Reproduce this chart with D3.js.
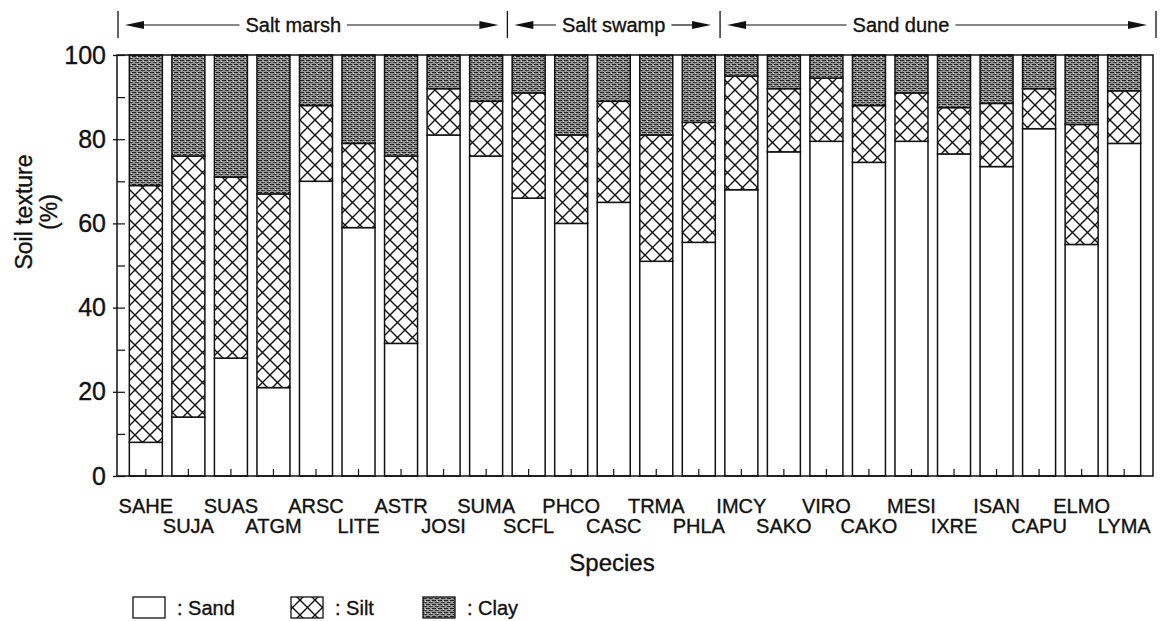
<!DOCTYPE html>
<html>
<head>
<meta charset="utf-8">
<script src="https://cdn.jsdelivr.net/npm/d3@7"></script>
<style>
  body { margin: 0; background: #fff; }
  svg { display: block; }
  text { font-family: "Liberation Sans", Arial, Helvetica, sans-serif; fill: #111; stroke: #111; stroke-width: 0.35px; }
</style>
</head>
<body>
<script>
// values (percent)
const species = ['SAHE', 'SUJA', 'SUAS', 'ATGM', 'ARSC', 'LITE', 'ASTR', 'JOSI', 'SUMA',
  'SCFL', 'PHCO', 'CASC', 'TRMA', 'PHLA',
  'IMCY', 'SAKO', 'VIRO', 'CAKO', 'MESI', 'IXRE', 'ISAN', 'CAPU', 'ELMO', 'LYMA'];
const sand = [8, 14, 28, 21, 70, 59, 31.5, 81, 76, 66, 60, 65, 51, 55.5, 68, 77, 79.5, 74.5, 79.5, 76.5, 73.5, 82.5, 55, 79];
const silt = [61, 62, 43, 46, 18, 20, 44.5, 11, 13, 25, 21, 24, 30, 28.5, 27, 15, 15, 13.5, 11.5, 11, 15, 9.5, 28.5, 12.5];
const clay = [31, 24, 29, 33, 12, 21, 24, 8, 11, 9, 19, 11, 19, 16, 5, 8, 5.5, 12, 9, 12.5, 11.5, 8, 16.5, 8.5];

const habitats = ['Salt marsh', 'Salt swamp', 'Sand dune'];
const habitatFirst = ['SAHE', 'SCFL', 'IMCY'];
const habitatLast = ['SUMA', 'PHLA', 'LYMA'];

const yTicks = [0, 20, 40, 60, 80, 100];
const yMinor = [0, 10, 20, 30, 40, 50, 60, 70, 80, 90, 100];
const components = ['sand', 'silt', 'clay'];
const legendLabels = [': Sand', ': Silt', ': Clay'];

const width = 1166;
const height = 621;
const plot = { left: 117, right: 1153, top: 55, bottom: 476 };

const svg = d3.select('body').append('svg')
  .attr('width', width)
  .attr('height', height);

// fills: plain, cross-hatch, stippled grey
const defs = svg.append('defs');
const hatch = defs.append('pattern')
  .attr('id', 'silt')
  .attr('patternUnits', 'userSpaceOnUse')
  .attr('width', 15)
  .attr('height', 15);
hatch.append('rect').attr('width', 15).attr('height', 15).attr('fill', '#fff');
hatch.append('path')
  .attr('d', 'M0,0L15,15M15,0L0,15')
  .attr('stroke', '#111')
  .attr('stroke-width', 1.4);

const stip = defs.append('pattern')
  .attr('id', 'clay')
  .attr('patternUnits', 'userSpaceOnUse')
  .attr('width', 6)
  .attr('height', 4);
stip.append('rect').attr('width', 6).attr('height', 4).attr('fill', '#959595');
stip.append('rect').attr('x', 0).attr('y', 0).attr('width', 4).attr('height', 1).attr('fill', '#222');
stip.append('rect').attr('x', 3).attr('y', 2).attr('width', 3).attr('height', 1).attr('fill', '#333');
stip.append('rect').attr('x', 0).attr('y', 2).attr('width', 1).attr('height', 1).attr('fill', '#444');
stip.append('rect').attr('x', 5).attr('y', 1).attr('width', 1).attr('height', 1).attr('fill', '#d0d0d0');

const fills = { sand: '#fff', silt: 'url(#silt)', clay: 'url(#clay)' };

const rows = species.map((s, i) => ({ species: s, sand: sand[i], silt: silt[i], clay: clay[i] }));
const series = d3.stack().keys(components)(rows);

const x = d3.scaleBand()
  .domain(species)
  .range([plot.left, plot.right])
  .paddingInner(0.224)
  .paddingOuter(0.29);

const y = d3.scaleLinear()
  .domain([0, 100])
  .range([plot.bottom, plot.top]);

// bars
svg.append('g')
  .selectAll('g')
  .data(series)
  .join('g')
  .attr('fill', d => fills[d.key])
  .selectAll('rect')
  .data(d => d)
  .join('rect')
  .attr('x', d => x(d.data.species))
  .attr('width', x.bandwidth())
  .attr('y', d => y(d[1]))
  .attr('height', d => y(d[0]) - y(d[1]))
  .attr('stroke', '#111')
  .attr('stroke-width', 1.5);

// frame
svg.append('rect')
  .attr('x', plot.left)
  .attr('y', plot.top)
  .attr('width', plot.right - plot.left)
  .attr('height', plot.bottom - plot.top)
  .attr('fill', 'none')
  .attr('stroke', '#111')
  .attr('stroke-width', 1.5);

// y axis: labelled ticks outside, every 10 inside
const yAxis = svg.append('g')
  .attr('transform', `translate(${plot.left},0)`)
  .call(d3.axisLeft(y).tickValues(yTicks).tickSize(4).tickPadding(7));
yAxis.select('.domain').remove();
yAxis.selectAll('line').attr('stroke', '#111').attr('stroke-width', 1.3);
yAxis.selectAll('text').style('font-size', '25px');

const yInner = svg.append('g')
  .attr('transform', `translate(${plot.left},0)`)
  .call(d3.axisRight(y).tickValues(yMinor).tickSize(8).tickFormat(''));
yInner.select('.domain').remove();
yInner.selectAll('line').attr('stroke', '#111').attr('stroke-width', 1.2);

// x axis: ticks pointing up at bar centres, labels staggered in two rows
const xAxis = svg.append('g')
  .attr('transform', `translate(0,${plot.bottom})`)
  .call(d3.axisBottom(x).tickSizeInner(-7).tickSizeOuter(0));
xAxis.select('.domain').remove();
xAxis.selectAll('line').attr('stroke', '#111').attr('stroke-width', 1.2);
xAxis.selectAll('text')
  .attr('dy', null)
  .attr('y', (d, i) => (i % 2 ? 57 : 37))
  .style('font-size', '20px');

// axis titles
svg.append('text')
  .attr('transform', 'translate(32,212) rotate(-90)')
  .attr('text-anchor', 'middle')
  .style('font-size', '23px')
  .text('Soil texture');
svg.append('text')
  .attr('transform', 'translate(57,212) rotate(-90)')
  .attr('text-anchor', 'middle')
  .style('font-size', '23px')
  .text('(%)');

svg.append('text')
  .attr('x', 612)
  .attr('y', 571)
  .attr('text-anchor', 'middle')
  .style('font-size', '24px')
  .text('Species');

// habitat brackets above the plot
const step = x.step();
const edgeL = (s, i) => (i === 0 ? plot.left + 1 : x(s) - (step - x.bandwidth()) / 2);
const edgeR = (s, i) => (i === habitats.length - 1 ? plot.right + 3 : x(s) + x.bandwidth() + (step - x.bandwidth()) / 2);
const labelFrac = [0.45, 0.5, 0.415];
const hy = 25;

const head = svg.append('g');
habitats.forEach((h, i) => {
  const x0 = edgeL(habitatFirst[i], i);
  const x1 = edgeR(habitatLast[i], i);
  const cx = x0 + (x1 - x0) * labelFrac[i];
  const t = head.append('text')
    .attr('x', cx)
    .attr('y', hy + 7)
    .attr('text-anchor', 'middle')
    .style('font-size', '20px')
    .text(h);
  const tw = t.node().getComputedTextLength();
  const tipL = x0 + 7;
  const tipR = x1 - 9;
  head.append('line')
    .attr('x1', tipL + 10).attr('x2', cx - tw / 2 - 6)
    .attr('y1', hy).attr('y2', hy)
    .attr('stroke', '#111').attr('stroke-width', 1.2);
  head.append('line')
    .attr('x1', cx + tw / 2 + 6).attr('x2', tipR - 10)
    .attr('y1', hy).attr('y2', hy)
    .attr('stroke', '#111').attr('stroke-width', 1.2);
  head.append('path')
    .attr('d', `M${tipL},${hy}L${tipL + 19},${hy - 4}L${tipL + 19},${hy + 4}Z`)
    .attr('fill', '#111');
  head.append('path')
    .attr('d', `M${tipR},${hy}L${tipR - 19},${hy - 4}L${tipR - 19},${hy + 4}Z`)
    .attr('fill', '#111');
});
const seps = [edgeL(habitatFirst[0], 0)].concat(habitatLast.map((s, i) => edgeR(s, i)));
head.selectAll('line.sep')
  .data(seps)
  .join('line')
  .attr('class', 'sep')
  .attr('x1', d => d).attr('x2', d => d)
  .attr('y1', 11).attr('y2', 38)
  .attr('stroke', '#111')
  .attr('stroke-width', 1.3);

// legend
const legendX = [133, 291, 423];
const legend = svg.append('g');
components.forEach((c, i) => {
  legend.append('rect')
    .attr('x', legendX[i])
    .attr('y', 597)
    .attr('width', 32)
    .attr('height', 21)
    .attr('fill', fills[c])
    .attr('stroke', '#111')
    .attr('stroke-width', 1.3);
  legend.append('text')
    .attr('x', legendX[i] + 44)
    .attr('y', 615)
    .style('font-size', '20px')
    .text(legendLabels[i]);
});
</script>
</body>
</html>
